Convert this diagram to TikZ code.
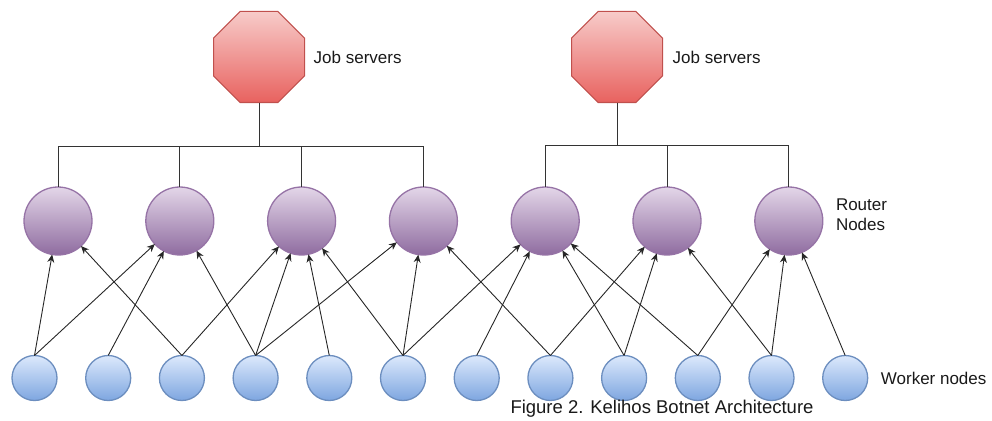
\documentclass[tikz,border=0pt]{standalone}
\usepackage{fontspec}
\setmainfont{Liberation Sans}
\usepackage{xcolor}
\usepackage{tikz}
\usetikzlibrary{arrows.meta,positioning,shapes.geometric}

\definecolor{jobtop}{HTML}{F7CBC9}
\definecolor{jobbot}{HTML}{E8625F}
\definecolor{jobline}{HTML}{C0504D}
\definecolor{routop}{HTML}{E3D6E8}
\definecolor{roubot}{HTML}{8F6CA0}
\definecolor{rouline}{HTML}{9673A6}
\definecolor{worktop}{HTML}{DCE9FC}
\definecolor{workbot}{HTML}{7EA6E0}
\definecolor{workline}{HTML}{6C8EBF}

\begin{document}
\begin{tikzpicture}[
  x=1pt, y=-1pt,
  server/.style={
    regular polygon,
    regular polygon sides=8,
    minimum size=98.5pt,
    inner sep=0pt,
    outer sep=0pt,
    draw=jobline,
    line width=1pt,
    top color=jobtop,
    bottom color=jobbot
  },
  router/.style={
    circle,
    minimum size=68pt,
    inner sep=0pt,
    outer sep=0pt,
    draw=rouline,
    line width=1.3pt,
    top color=routop,
    bottom color=roubot
  },
  worker/.style={
    circle,
    minimum size=45pt,
    inner sep=0pt,
    outer sep=0pt,
    draw=workline,
    line width=1.3pt,
    top color=worktop,
    bottom color=workbot
  },
  lbl/.style={inner sep=0pt, align=left, text=black!90, font=\fontsize{17}{20}\selectfont},
  capt/.style={inner sep=0pt, text=black!90, font=\fontsize{18.5}{22}\selectfont},
  link/.style={line width=0.9pt, black!80},
  arrow/.style={-{Stealth[length=8pt, width=7pt]}, line width=0.9pt, black!85}
]
  \useasboundingbox (0,0) rectangle (992,420);

  % job servers
  \node[server] (js1) at (259,57) {};
  \node[server] (js2) at (617,57) {};
  \node[lbl, right=9pt of js1] (jslbl1) {Job servers};
  \node[lbl, right=10pt of js2] (jslbl2) {Job servers};

  % router nodes
  \node[router] (r1) at (58,221) {};
  \node[router, right=53.8pt of r1] (r2) {};
  \node[router, right=53.8pt of r2] (r3) {};
  \node[router, right=53.8pt of r3] (r4) {};
  \node[router, right=53.8pt of r4] (r5) {};
  \node[router, right=53.8pt of r5] (r6) {};
  \node[router, right=53.8pt of r6] (r7) {};
  \node[lbl, right=13pt of r7, yshift=6pt] (rlbl) {Router\\Nodes};

  % worker nodes
  \node[worker] (w1) at (34.5,378) {};
  \node[worker, right=28.7pt of w1] (w2) {};
  \node[worker, right=28.7pt of w2] (w3) {};
  \node[worker, right=28.7pt of w3] (w4) {};
  \node[worker, right=28.7pt of w4] (w5) {};
  \node[worker, right=28.7pt of w5] (w6) {};
  \node[worker, right=28.7pt of w6] (w7) {};
  \node[worker, right=28.7pt of w7] (w8) {};
  \node[worker, right=28.7pt of w8] (w9) {};
  \node[worker, right=28.7pt of w9] (w10) {};
  \node[worker, right=28.7pt of w10] (w11) {};
  \node[worker, right=28.7pt of w11] (w12) {};
  \node[lbl, right=13pt of w12] (wlbl) {Worker nodes};

  \node[capt] (cap) at (662,409) {Figure 2. Kelihos Botnet Architecture};

  % server buses
  \coordinate (bus1) at (259,146);
  \coordinate (bus2) at (617,145);
  \draw[link] (js1) -- (bus1);
  \draw[link] (js2) -- (bus2);
  \draw[link] (r1) |- (bus1);
  \draw[link] (r2) |- (bus1);
  \draw[link] (r3) |- (bus1);
  \draw[link] (r4) |- (bus1);
  \draw[link] (r5) |- (bus2);
  \draw[link] (r6) |- (bus2);
  \draw[link] (r7) |- (bus2);

  % workers to routers
  \draw[arrow] (w1.north) -- (r1);
  \draw[arrow] (w1.north) -- (r2);
  \draw[arrow] (w2.north) -- (r2);
  \draw[arrow] (w3.north) -- (r1);
  \draw[arrow] (w3.north) -- (r3);
  \draw[arrow] (w4.north) -- (r2);
  \draw[arrow] (w4.north) -- (r3);
  \draw[arrow] (w4.north) -- (r4);
  \draw[arrow] (w5.north) -- (r3);
  \draw[arrow] (w6.north) -- (r3);
  \draw[arrow] (w6.north) -- (r4);
  \draw[arrow] (w6.north) -- (r5);
  \draw[arrow] (w7.north) -- (r5);
  \draw[arrow] (w8.north) -- (r4);
  \draw[arrow] (w8.north) -- (r6);
  \draw[arrow] (w9.north) -- (r5);
  \draw[arrow] (w9.north) -- (r6);
  \draw[arrow] (w10.north) -- (r5);
  \draw[arrow] (w10.north) -- (r7);
  \draw[arrow] (w11.north) -- (r6);
  \draw[arrow] (w11.north) -- (r7);
  \draw[arrow] (w12.north) -- (r7);
\end{tikzpicture}
\end{document}
